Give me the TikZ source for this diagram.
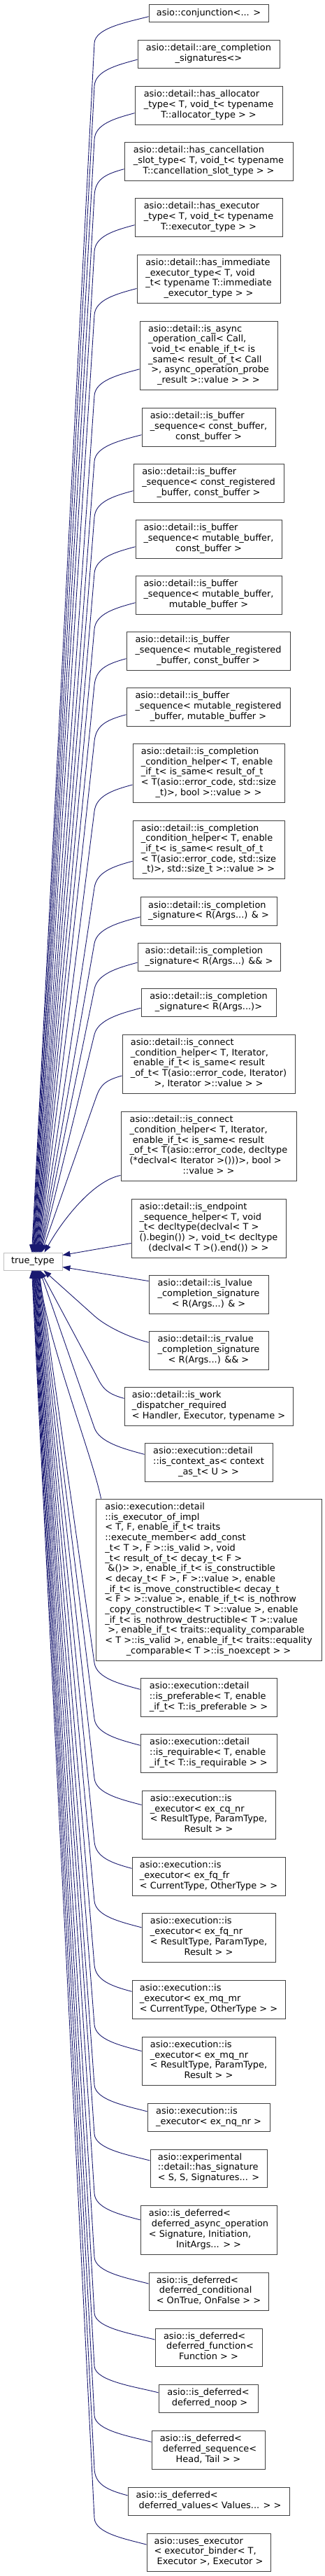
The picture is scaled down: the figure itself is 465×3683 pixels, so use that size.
\documentclass[tikz,border=0pt]{standalone}
\usepackage{fontspec}
\setmainfont{DejaVu Sans}
\usetikzlibrary{calc,arrows.meta}
\definecolor{edgeblue}{HTML}{191970}
\definecolor{boxgray}{HTML}{404040}
\definecolor{ttgray}{HTML}{BFBFBF}
\newcommand{\tb}[1]{\begin{tabular}{@{}l@{}}#1\end{tabular}}
\newcommand{\lastln}[1]{\multicolumn{1}{@{}c@{}}{#1}}
\newcommand{\bx}[6]{\node[cls, minimum width={#4-#2}, minimum height={#5-#3}] (#1) at ({(#2+#4)/2},{(#3+#5)/2}) {#6};}
\newcommand{\upedge}[2]{%
  \coordinate (s) at ($(#1.west)!0.4!(#1.south west)$);
  \coordinate (b) at ($(s -| xb)+(0,38)$);
  \coordinate (t) at ($(tt.north west)+(#2,0)$);
  \draw[edge] (s) .. controls ($(s)+(-30,8)$) and ($(b)!-22pt!(t)$) .. (b) -- (t);}
\newcommand{\downedge}[2]{%
  \coordinate (s) at ($(#1.west)!0.4!(#1.north west)$);
  \coordinate (b) at ($(s -| xb)+(0,-38)$);
  \coordinate (t) at ($(tt.south west)+(#2,0)$);
  \draw[edge] (s) .. controls ($(s)+(-30,-8)$) and ($(b)!-22pt!(t)$) .. (b) -- (t);}
\begin{document}
\begin{tikzpicture}[x=1pt,y=-1pt,
  cls/.style={draw=boxgray, line width=0.9pt, fill=white, inner sep=0pt, text=black, font=\fontsize{12.9}{14.7}\selectfont},
  ttbox/.style={cls, draw=ttgray},
  edge/.style={draw=edgeblue, line width=0.9pt, -{Triangle[length=11pt,width=8pt,fill=edgeblue]}}]
\path[use as bounding box, fill=white] (0,0) rectangle (465,3683);
\coordinate (xb) at (135,0);
\node[ttbox, minimum width=84, minimum height=25] (tt) at (47,1803.5) {true\_type};
\bx{b1}{213}{6}{384}{31}{asio::conjunction<... >}
\bx{b2}{197}{57}{400}{97}{\tb{asio::detail::are\_completion\\\lastln{\_signatures<>}}}
\bx{b3}{193}{123}{404}{178}{\tb{asio::detail::has\_allocator\\\_type< T, void\_t< typename\\\lastln{T::allocator\_type > >}}}
\bx{b4}{178}{203}{419}{258}{\tb{asio::detail::has\_cancellation\\\_slot\_type< T, void\_t< typename\\\lastln{T::cancellation\_slot\_type > >}}}
\bx{b5}{193}{283}{404}{338}{\tb{asio::detail::has\_executor\\\_type< T, void\_t< typename\\\lastln{T::executor\_type > >}}}
\bx{b6}{196}{364}{401}{433}{\tb{asio::detail::has\_immediate\\\_executor\_type< T, void\\\_t< typename T::immediate\\\lastln{\_executor\_type > >}}}
\bx{b7}{200}{459}{397}{557}{\tb{asio::detail::is\_async\\\_operation\_call< Call,\\\ void\_t< enable\_if\_t< is\\\_same< result\_of\_t< Call\\\ >, async\_operation\_probe\\\lastln{\_result >::value > > >}}}
\bx{b8}{203}{583}{394}{638}{\tb{asio::detail::is\_buffer\\\_sequence< const\_buffer,\\\lastln{const\_buffer >}}}
\bx{b9}{191}{663}{406}{718}{\tb{asio::detail::is\_buffer\\\_sequence< const\_registered\\\lastln{\_buffer, const\_buffer >}}}
\bx{b10}{194}{743}{403}{798}{\tb{asio::detail::is\_buffer\\\_sequence< mutable\_buffer,\\\lastln{const\_buffer >}}}
\bx{b11}{194}{823}{403}{878}{\tb{asio::detail::is\_buffer\\\_sequence< mutable\_buffer,\\\lastln{mutable\_buffer >}}}
\bx{b12}{181}{903}{415}{958}{\tb{asio::detail::is\_buffer\\\_sequence< mutable\_registered\\\lastln{\_buffer, const\_buffer >}}}
\bx{b13}{181}{983}{415}{1038}{\tb{asio::detail::is\_buffer\\\_sequence< mutable\_registered\\\lastln{\_buffer, mutable\_buffer >}}}
\bx{b14}{190}{1063}{407}{1147}{\tb{asio::detail::is\_completion\\\_condition\_helper< T, enable\\\_if\_t< is\_same< result\_of\_t\\< T(asio::error\_code, std::size\\\lastln{\_t)>, bool >::value > >}}}
\bx{b15}{190}{1173}{407}{1256}{\tb{asio::detail::is\_completion\\\_condition\_helper< T, enable\\\_if\_t< is\_same< result\_of\_t\\< T(asio::error\_code, std::size\\\lastln{\_t)>, std::size\_t >::value > >}}}
\bx{b16}{201}{1282}{396}{1323}{\tb{asio::detail::is\_completion\\\lastln{\_signature< R(Args...) \& >}}}
\bx{b17}{197}{1348}{401}{1388}{\tb{asio::detail::is\_completion\\\lastln{\_signature< R(Args...) \&\& >}}}
\bx{b18}{202}{1413}{395}{1453}{\tb{asio::detail::is\_completion\\\lastln{\_signature< R(Args...)>}}}
\bx{b19}{175}{1479}{422}{1563}{\tb{asio::detail::is\_connect\\\_condition\_helper< T, Iterator,\\\ enable\_if\_t< is\_same< result\\\_of\_t< T(asio::error\_code, Iterator)\\\lastln{>, Iterator >::value > >}}}
\bx{b20}{173}{1589}{424}{1688}{\tb{asio::detail::is\_connect\\\_condition\_helper< T, Iterator,\\\ enable\_if\_t< is\_same< result\\\_of\_t< T(asio::error\_code, decltype\\(*declval< Iterator >()))>, bool >\\\lastln{::value > >}}}
\bx{b21}{188}{1714}{409}{1798}{\tb{asio::detail::is\_endpoint\\\_sequence\_helper< T, void\\\_t< decltype(declval< T >\\().begin()) >, void\_t< decltype\\\lastln{(declval< T >().end()) > >}}}
\bx{b22}{213}{1823}{384}{1878}{\tb{asio::detail::is\_lvalue\\\_completion\_signature\\\lastln{< R(Args...) \& >}}}
\bx{b23}{213}{1903}{384}{1958}{\tb{asio::detail::is\_rvalue\\\_completion\_signature\\\lastln{< R(Args...) \&\& >}}}
\bx{b24}{178}{1983}{419}{2038}{\tb{asio::detail::is\_work\\\_dispatcher\_required\\\lastln{< Handler, Executor, typename >}}}
\bx{b25}{207}{2063}{390}{2118}{\tb{asio::execution::detail\\::is\_context\_as< context\\\lastln{\_as\_t< U > >}}}
\bx{b26}{137}{2143}{460}{2374}{\tb{asio::execution::detail\\::is\_executor\_of\_impl\\< T, F, enable\_if\_t< traits\\::execute\_member< add\_const\\\_t< T >, F >::is\_valid >, void\\\_t< result\_of\_t< decay\_t< F >\\\ \&()> >, enable\_if\_t< is\_constructible\\< decay\_t< F >, F >::value >, enable\\\_if\_t< is\_move\_constructible< decay\_t\\< F > >::value >, enable\_if\_t< is\_nothrow\\\_copy\_constructible< T >::value >, enable\\\_if\_t< is\_nothrow\_destructible< T >::value\\\ >, enable\_if\_t< traits::equality\_comparable\\< T >::is\_valid >, enable\_if\_t< traits::equality\\\lastln{\_comparable< T >::is\_noexcept > >}}}
\bx{b27}{201}{2399}{396}{2454}{\tb{asio::execution::detail\\::is\_preferable< T, enable\\\lastln{\_if\_t< T::is\_preferable > >}}}
\bx{b28}{201}{2479}{396}{2534}{\tb{asio::execution::detail\\::is\_requirable< T, enable\\\lastln{\_if\_t< T::is\_requirable > >}}}
\bx{b29}{203}{2560}{394}{2629}{\tb{asio::execution::is\\\_executor< ex\_cq\_nr\\< ResultType, ParamType,\\\lastln{Result > >}}}
\bx{b30}{189}{2655}{408}{2710}{\tb{asio::execution::is\\\_executor< ex\_fq\_fr\\\lastln{< CurrentType, OtherType > >}}}
\bx{b31}{203}{2735}{394}{2805}{\tb{asio::execution::is\\\_executor< ex\_fq\_nr\\< ResultType, ParamType,\\\lastln{Result > >}}}
\bx{b32}{189}{2831}{408}{2886}{\tb{asio::execution::is\\\_executor< ex\_mq\_mr\\\lastln{< CurrentType, OtherType > >}}}
\bx{b33}{203}{2912}{394}{2981}{\tb{asio::execution::is\\\_executor< ex\_mq\_nr\\< ResultType, ParamType,\\\lastln{Result > >}}}
\bx{b34}{211}{3007}{386}{3047}{\tb{asio::execution::is\\\lastln{\_executor< ex\_nq\_nr >}}}
\bx{b35}{215}{3073}{382}{3127}{\tb{asio::experimental\\::detail::has\_signature\\\lastln{< S, S, Signatures... >}}}
\bx{b36}{201}{3153}{396}{3223}{\tb{asio::is\_deferred<\\\ deferred\_async\_operation\\< Signature, Initiation,\\\lastln{InitArgs... > >}}}
\bx{b37}{213}{3249}{384}{3303}{\tb{asio::is\_deferred<\\\ deferred\_conditional\\\lastln{< OnTrue, OnFalse > >}}}
\bx{b38}{222}{3329}{375}{3383}{\tb{asio::is\_deferred<\\\ deferred\_function<\\\lastln{Function > >}}}
\bx{b39}{227}{3409}{369}{3449}{\tb{asio::is\_deferred<\\\lastln{\ deferred\_noop >}}}
\bx{b40}{217}{3475}{379}{3530}{\tb{asio::is\_deferred<\\\ deferred\_sequence<\\\lastln{Head, Tail > >}}}
\bx{b41}{183}{3556}{414}{3596}{\tb{asio::is\_deferred<\\\lastln{\ deferred\_values< Values... > >}}}
\bx{b42}{210}{3622}{387}{3676}{\tb{asio::uses\_executor\\< executor\_binder< T,\\\lastln{\ Executor >, Executor >}}}
% connectors above true_type
\upedge{b1}{41}
\upedge{b2}{41.8}
\upedge{b3}{42.6}
\upedge{b4}{43.3}
\upedge{b5}{44.1}
\upedge{b6}{44.9}
\upedge{b7}{45.7}
\upedge{b8}{46.5}
\upedge{b9}{47.2}
\upedge{b10}{48}
\upedge{b11}{48.8}
\upedge{b12}{49.6}
\upedge{b13}{50.4}
\upedge{b14}{51.1}
\upedge{b15}{51.9}
\upedge{b16}{52.7}
\upedge{b17}{53.5}
\upedge{b18}{54.3}
\upedge{b19}{55}
\coordinate (s20) at ($(b20.south west)+(0,-8)$);
\coordinate (t20) at ($(tt.north west)+(59,0)$);
\draw[edge] (s20) .. controls ($(s20)+(-40,8)$) and ($(t20)+(25,-45)$) .. (t20);
\draw[edge] ($(b21.south west)+(0,-21)$) -- ($(tt.east)+(0,-9)$);
% connectors below true_type
\draw[edge] ($(b22.north west)+(0,9)$) -- ($(tt.east)+(0,8)$);
\downedge{b23}{58}
\downedge{b24}{53}
\downedge{b25}{52.3}
\coordinate (s26) at ($(b26.north west)+(8,0)$);
\coordinate (t26) at ($(tt.south west)+(51.7,0)$);
\draw[edge] (s26) .. controls ($(s26)+(-12,-60)$) and ($(t26)+(8,90)$) .. (t26);
\downedge{b27}{51}
\downedge{b28}{50.3}
\downedge{b29}{49.7}
\downedge{b30}{49}
\downedge{b31}{48.3}
\downedge{b32}{47.7}
\downedge{b33}{47}
\downedge{b34}{46.3}
\downedge{b35}{45.7}
\downedge{b36}{45}
\downedge{b37}{44.3}
\downedge{b38}{43.7}
\downedge{b39}{43}
\downedge{b40}{42.3}
\downedge{b41}{41.7}
\downedge{b42}{41}
\end{tikzpicture}
\end{document}
